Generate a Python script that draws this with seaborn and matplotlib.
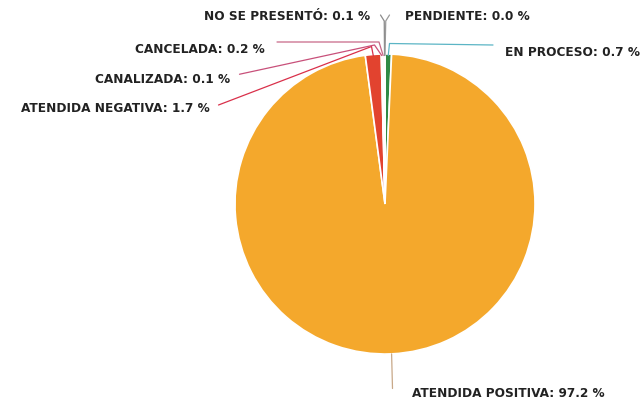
import numpy as np
import matplotlib
matplotlib.use("Agg")
import matplotlib.pyplot as plt
import seaborn as sns

# datos del grafico (porcentaje por estatus)
estatus = ["EN PROCESO", "ATENDIDA POSITIVA", "ATENDIDA NEGATIVA", "CANALIZADA",
           "CANCELADA", "NO SE PRESENTÓ", "PENDIENTE"]
porcentajes = [0.7, 97.2, 1.7, 0.1, 0.2, 0.1, 0.0]

colores = ["#2f8a45", "#f4a82c", "#e2432f", "#c94a6a", "#d9a0b0", "#9a9a9a", "#b0b0b0"]
color_lineas = ["#5bb5c5", "#c8a888", "#d9304a", "#c8507a", "#c86888", "#8a8a8a", "#9a9a9a"]

# posicion de cada etiqueta (x, y, alineacion) y codo de la linea guia
pos_etiquetas = {
    "EN PROCESO": (0.80, 1.02, "left"),
    "ATENDIDA POSITIVA": (0.18, -1.255, "left"),
    "ATENDIDA NEGATIVA": (-1.165, 0.645, "right"),
    "CANALIZADA": (-1.03, 0.84, "right"),
    "CANCELADA": (-0.80, 1.04, "right"),
    "NO SE PRESENTÓ": (-0.10, 1.255, "right"),
    "PENDIENTE": (0.135, 1.255, "left"),
}
lineas = {
    "EN PROCESO": [(0.03, 1.07), (0.72, 1.06)],
    "ATENDIDA POSITIVA": [(0.05, -1.23)],
    "ATENDIDA NEGATIVA": [(-0.09, 1.05), (-1.11, 0.66)],
    "CANALIZADA": [(-0.07, 1.06), (-0.97, 0.865)],
    "CANCELADA": [(-0.04, 1.08), (-0.72, 1.08)],
    "NO SE PRESENTÓ": [(-0.005, 1.22), (-0.03, 1.26)],
    "PENDIENTE": [(0.005, 1.22), (0.03, 1.26)],
}

sns.set_theme(style="white")
plt.rcParams['font.family'] = ['DejaVu Sans']

fig = plt.figure(figsize=(6.43, 4.02), dpi=100)
ax = fig.add_axes([0, 0, 1, 1])

wedges, _ = ax.pie(porcentajes, colors=colores, startangle=90, counterclock=False,
                   radius=1.0, wedgeprops=dict(edgecolor="white", linewidth=1.2))

acum = 0.0
for i, nombre in enumerate(estatus):
    medio = 90 - (acum + porcentajes[i] / 2) * 3.6
    acum += porcentajes[i]
    ang = np.deg2rad(medio)
    x0, y0 = 0.99 * np.cos(ang), 0.99 * np.sin(ang)
    if nombre == "ATENDIDA POSITIVA":
        x0, y0 = np.cos(ang), np.sin(ang)
    pts = [(x0, y0)] + lineas[nombre]
    xs, ys = zip(*pts)
    ax.plot(xs, ys, color=color_lineas[i], lw=0.9)
    tx, ty, ha = pos_etiquetas[nombre]
    ax.text(tx, ty, f"{nombre}: {porcentajes[i]:.1f} %", ha=ha, va="center",
            fontsize=8.7, color="#222222", fontweight="semibold")

ax.set_xlim(-385 / 150, (643 - 385) / 150)
ax.set_ylim((205 - 402) / 150, 205 / 150)
ax.set_aspect("equal")
ax.axis("off")

fig.savefig("out.png", dpi=100)
